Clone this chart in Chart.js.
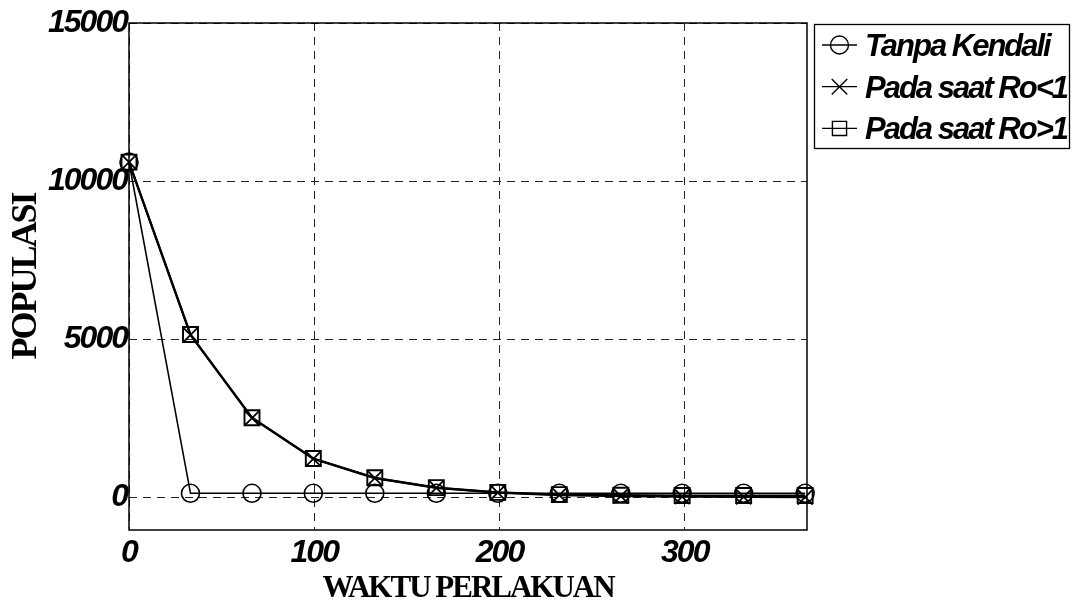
<!DOCTYPE html>
<html><head><meta charset="utf-8">
<script src="https://cdn.jsdelivr.net/npm/chart.js@4/dist/chart.umd.min.js"></script>
<style>html,body{margin:0;padding:0;background:#fff;}canvas{display:block;}</style>
</head><body>
<canvas id="c" width="1074" height="604"></canvas>
<script>
// ---- data ----
const days = [0, 33.2, 66.4, 99.5, 132.7, 165.9, 199.1, 232.3, 265.5, 298.6, 331.8, 365];
const tanpaKendali = [10600, 130, 130, 130, 130, 130, 130, 130, 130, 130, 130, 130];
const roKurang1 = [10600, 5140, 2510, 1220, 610, 300, 150, 75, 40, 25, 15, 10];
const roLebih1 = [10600, 5150, 2520, 1230, 620, 310, 160, 90, 70, 60, 60, 60];
const seriesLabels = ['Tanpa Kendali', 'Pada saat Ro<1', 'Pada saat Ro>1'];
const xTicks = [0, 100, 200, 300];
const yTicks = [0, 5000, 10000, 15000];
const xTitle = 'WAKTU PERLAKUAN';
const yTitle = 'POPULASI';

const toPts = (ys) => days.map((d, i) => ({x: d, y: ys[i]}));
const sans = '"Liberation Sans", Arial, Helvetica, sans-serif';
const serif = '"Liberation Serif", "Times New Roman", serif';
const tickFont = {family: sans, weight: 'bold', style: 'italic', size: 32};

// tight letter spacing for axis text (reference uses condensed lettering)
const spacingPlugin = {
  id: 'spacing',
  beforeDraw(chart) { chart.ctx.letterSpacing = '-2px'; },
  beforeDatasetsDraw(chart) { chart.ctx.letterSpacing = '0px'; }
};

const framePlugin = {
  id: 'frame',
  beforeDatasetsDraw(chart) {
    const {ctx, chartArea: a} = chart;
    ctx.save();
    ctx.strokeStyle = '#000';
    ctx.lineWidth = 1.5;
    ctx.strokeRect(a.left, a.top, a.right - a.left, a.bottom - a.top);
    ctx.restore();
  }
};

const legendRadius = [9, 11, 10];
const legendPlugin = {
  id: 'boxLegend',
  afterDraw(chart) {
    const {ctx, chartArea: a} = chart;
    const bx = a.right + 7.5, by = 24.5, bw = 255, bh = 124;
    ctx.save();
    ctx.strokeStyle = '#000';
    ctx.lineWidth = 1.3;
    ctx.strokeRect(bx, by, bw, bh);
    chart.data.datasets.forEach((ds, i) => {
      const cy = by + 20.5 + i * 41.7;
      ctx.beginPath();
      ctx.lineWidth = 1.3;
      ctx.strokeStyle = '#000';
      ctx.moveTo(bx + 7.5, cy);
      ctx.lineTo(bx + 42.5, cy);
      ctx.stroke();
      ctx.fillStyle = 'rgba(0,0,0,0)';
      ctx.lineWidth = 1.4;
      Chart.helpers.drawPoint(ctx, {pointStyle: ds.pointStyle, radius: legendRadius[i], borderWidth: 1.4, rotation: 0}, bx + 25, cy);
      ctx.fillStyle = '#000';
      ctx.font = 'italic bold 31px ' + sans;
      ctx.letterSpacing = '-2px';
      ctx.textAlign = 'left';
      ctx.textBaseline = 'alphabetic';
      ctx.fillText(ds.label, bx + 50.5, cy + 11);
      ctx.letterSpacing = '0px';
    });
    ctx.restore();
  }
};

new Chart(document.getElementById('c'), {
  type: 'line',
  data: {
    datasets: [
      {label: seriesLabels[0], data: toPts(tanpaKendali), borderColor: '#000', borderWidth: 1.6,
       pointStyle: 'circle', pointRadius: 9, pointBorderWidth: 1.6, pointBorderColor: '#000',
       pointBackgroundColor: 'rgba(0,0,0,0)', tension: 0, clip: false},
      {label: seriesLabels[1], data: toPts(roKurang1), borderColor: '#000', borderWidth: 2.2,
       pointStyle: 'crossRot', pointRadius: 10.6, pointBorderWidth: 1.8, pointBorderColor: '#000',
       pointBackgroundColor: 'rgba(0,0,0,0)', tension: 0, clip: false},
      {label: seriesLabels[2], data: toPts(roLebih1), borderColor: '#000', borderWidth: 2.2,
       pointStyle: 'rect', pointRadius: 10.6, pointBorderWidth: 1.9, pointBorderColor: '#000',
       pointBackgroundColor: 'rgba(0,0,0,0)', tension: 0, clip: false}
    ]
  },
  options: {
    responsive: false,
    animation: false,
    devicePixelRatio: 1,
    layout: {padding: {top: 23, right: 267, left: 0, bottom: 0}},
    plugins: {legend: {display: false}, tooltip: {enabled: false}},
    scales: {
      x: {
        type: 'linear', min: 0, max: 366,
        afterBuildTicks: (s) => { s.ticks = xTicks.map(v => ({value: v})); },
        afterFit: (s) => { s.height = 74; },
        ticks: {font: tickFont, color: '#000', padding: 4, maxRotation: 0, callback: (v) => String(v)},
        grid: {color: '#222', lineWidth: 1, drawTicks: false},
        border: {display: false, dash: [8, 6]},
        title: {display: true, text: xTitle, color: '#000', padding: {top: 0, bottom: 0},
          font: {family: serif, weight: 'bold', size: 31, lineHeight: 1}}
      },
      y: {
        type: 'linear', min: -1030, max: 15000,
        afterBuildTicks: (s) => { s.ticks = yTicks.map(v => ({value: v})); },
        afterFit: (s) => { s.width = 129; },
        ticks: {font: tickFont, color: '#000', padding: 2, callback: (v) => String(v)},
        grid: {color: '#222', lineWidth: 1, drawTicks: false},
        border: {display: false, dash: [8, 6]},
        title: {display: true, text: yTitle, color: '#000', padding: {top: 9, bottom: 0},
          font: {family: serif, weight: 'bold', size: 36, lineHeight: 1}}
      }
    }
  },
  plugins: [spacingPlugin, framePlugin, legendPlugin]
});
</script>
</body></html>
